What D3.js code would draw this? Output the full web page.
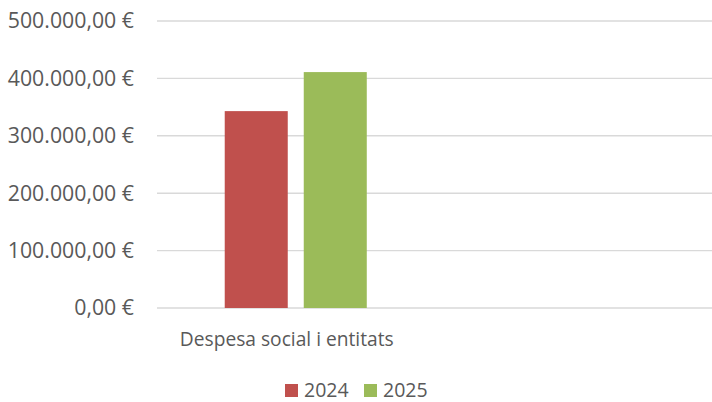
<!DOCTYPE html>
<html>
<head>
<meta charset="utf-8">
<script src="https://cdn.jsdelivr.net/npm/d3@7"></script>
<style>
  body { margin: 0; background: #fff; }
  svg text { font-family: "Open Sans", "Noto Sans", sans-serif; fill: #595959; }
</style>
</head>
<body>
<svg id="chart"></svg>
<script>
// --- DATA ---
const categories = ["Despesa social i entitats", ""];
const seriesNames = ["2024", "2025"];
const values2024 = [343000, null];
const values2025 = [411000, null];
const yTicks = [0, 100000, 200000, 300000, 400000, 500000];
const colors = ["#C0504D", "#9BBB59"];

// --- SETUP ---
const W = 712, H = 402;
const margin = { top: 21, right: 0, bottom: 94, left: 157 };
const height = H - margin.top - margin.bottom;

const svg = d3.select("#chart").attr("width", W).attr("height", H);

const x0 = d3.scaleBand().domain(categories).range([margin.left, W]).padding(0);
const x1 = d3.scaleBand().domain(seriesNames)
    .range([0, x0.bandwidth()])
    .paddingInner(0.2025)
    .paddingOuter(0.857);
const y = d3.scaleLinear().domain([0, 500000]).range([margin.top + height, margin.top]);

const fmt = v => d3.format(",.2f")(v).replace(/,/g, "X").replace(/\./g, ",").replace(/X/g, ".") + " €";

// Gridlines
svg.append("g")
    .selectAll("line")
    .data(yTicks)
    .join("line")
    .attr("x1", margin.left)
    .attr("x2", W)
    .attr("y1", d => y(d))
    .attr("y2", d => y(d))
    .attr("stroke", "#d9d9d9")
    .attr("stroke-width", 1.4);

// Y axis labels
const yAxis = d3.axisLeft(y).tickValues(yTicks).tickFormat(fmt).tickSize(0).tickPadding(23);
svg.append("g")
    .attr("transform", `translate(${margin.left},0)`)
    .call(yAxis)
    .call(g => g.select(".domain").remove())
    .call(g => g.selectAll("text")
        .attr("font-size", 21.3)
        .attr("font-family", null)
        .attr("fill", null));

// Bars
const rows = categories.map((c, i) => ({ cat: c, vals: [values2024[i], values2025[i]] }));
svg.append("g")
    .selectAll("g")
    .data(rows)
    .join("g")
    .attr("transform", d => `translate(${x0(d.cat)},0)`)
    .selectAll("rect")
    .data(d => d.vals.map((v, j) => ({ key: seriesNames[j], v, j })).filter(e => e.v != null))
    .join("rect")
    .attr("x", d => x1(d.key))
    .attr("width", x1.bandwidth())
    .attr("y", d => y(d.v))
    .attr("height", d => y(0) - y(d.v))
    .attr("fill", d => colors[d.j]);

// X axis labels
const xAxis = d3.axisBottom(x0).tickSize(0).tickPadding(24);
svg.append("g")
    .attr("transform", `translate(0,${y(0)})`)
    .call(xAxis)
    .call(g => g.select(".domain").remove())
    .call(g => g.selectAll("text")
        .attr("font-size", 19.2)
        .attr("font-family", null)
        .attr("fill", null)
        .attr("dx", -9));

// Legend
const legend = svg.append("g").attr("transform", "translate(285,384)");
const items = legend.selectAll("g")
    .data(seriesNames)
    .join("g")
    .attr("transform", (d, i) => `translate(${i * 79},0)`);
items.append("rect")
    .attr("width", 13).attr("height", 13)
    .attr("fill", (d, i) => colors[i]);
items.append("text")
    .attr("x", 19).attr("y", 13)
    .attr("font-size", 19.5)
    .text(d => d);
</script>
</body>
</html>
